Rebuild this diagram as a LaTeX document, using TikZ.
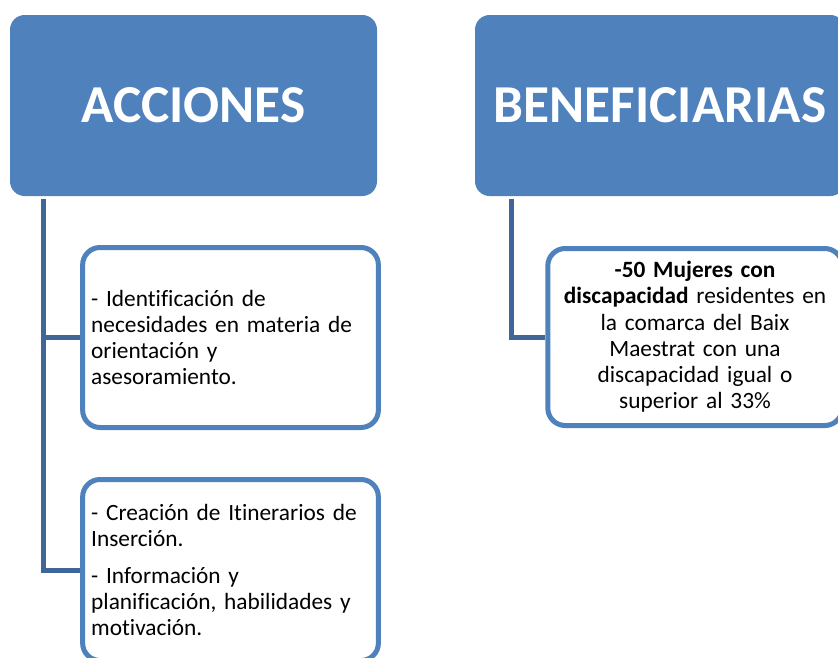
\documentclass[tikz,border=0pt]{standalone}
\usepackage{fontspec}
\setmainfont{Carlito}[Ligatures=CommonOff]
\definecolor{hdrblue}{HTML}{4F81BD}
\definecolor{connblue}{RGB}{64,101,152}
\tikzset{
  header/.style={rectangle, rounded corners=11pt, fill=hdrblue, text=white,
    font=\fontsize{40}{48}\selectfont\bfseries, minimum width=275.25pt, minimum height=135.75pt, inner sep=0pt},
  itembox/.style={rectangle, rounded corners=13pt, draw=hdrblue, line width=3.75pt, fill=white,
    font=\fontsize{17.5}{19.7}\selectfont, inner xsep=6.4pt, inner ysep=0pt},
  conn/.style={draw=connblue, line width=3.75pt}
}
\begin{document}
\begin{tikzpicture}[x=0.75pt,y=-0.75pt]
\useasboundingbox (0,0) rectangle (838,657);
\node[header] (acc) at (193.5,105.5) {ACCIONES};
\node[header, minimum width=277.5pt] (ben) at (660,105.5) {BENEFICIARIAS};
\node[itembox, text width=209pt, align=left, minimum height=135pt] (b1) at (230.5,337.5)
  {- Identificación de\\necesidades en materia de\\orientación y\\asesoramiento.};
\node[itembox, text width=209pt, align=left, minimum height=135.75pt] (b2) at (230.5,570)
  {- Creación de Itinerarios de\\Inserción.\\[8pt]- Información y\\planificación, habilidades y\\motivación.};
\node[itembox, text width=208pt, align=center, minimum height=132.75pt] (b3) at (695,337)
  {\textbf{-50 Mujeres con}\\\textbf{discapacidad} residentes en\\la comarca del Baix\\Maestrat con una\\discapacidad igual o\\superior al 33\%};
\coordinate (accdrop) at ([xshift=25.5pt,yshift=-2pt]acc.south west);
\coordinate (bendrop) at ([xshift=27.75pt,yshift=-2pt]ben.south west);
\draw[conn] (accdrop) |- (b2.west);
\draw[conn] (accdrop) |- (b1.west);
\draw[conn] (bendrop) |- (b3.west);
\end{tikzpicture}
\end{document}
